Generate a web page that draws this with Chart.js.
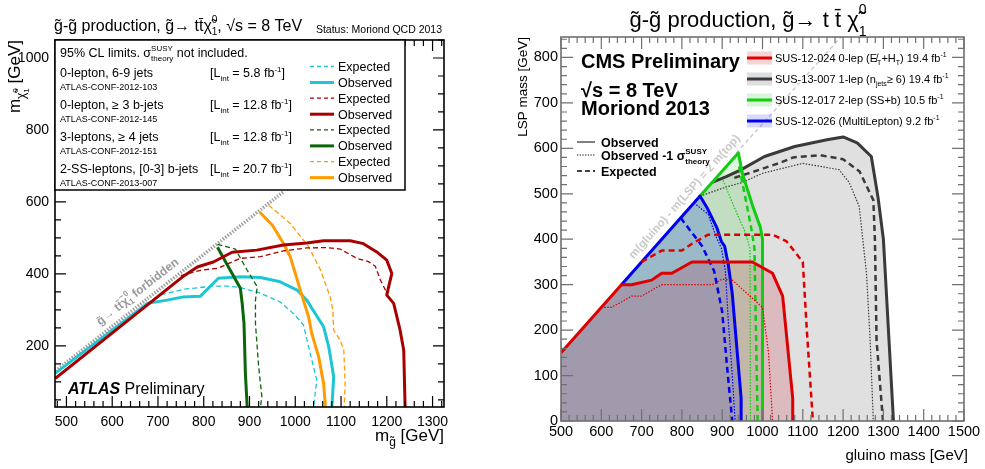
<!DOCTYPE html>
<html>
<head>
<meta charset="utf-8">
<script src="https://cdn.jsdelivr.net/npm/chart.js@4.4.0/dist/chart.umd.min.js"></script>
<style>
body { margin: 0; background: #fff; }
#wrap { position: relative; width: 985px; height: 469px; }
canvas { position: absolute; top: 0; }
</style>
</head>
<body>
<div id="wrap">
<canvas id="atlas" width="490" height="469" style="left:0"></canvas>
<canvas id="cms" width="490" height="469" style="left:495px"></canvas>
</div>
<script>
const FONT = '"Liberation Sans", Arial, Helvetica, sans-serif'

// ---------- ATLAS (left) ----------
const atlasXTicks = [500, 600, 700, 800, 900, 1000, 1100, 1200, 1300]
const atlasYTicks = [200, 400, 600, 800, 1000]
const atlasForbidden = [[476, 130], [975, 629]]
const atlasCyanObs = [[476,124],[677,318],[720,327],[755,336],[793,338],[832,388],[880,392],[924,390],[967,378],[1004,355],[1025,327],[1062,253],[1073,198],[1084,114],[1080,30]]
const atlasCyanExp = [[677,318],[705,341],[755,357],[821,366],[851,366],[880,362],[924,346],[967,322],[996,290],[1018,258],[1029,198],[1047,105],[1040,30]]
const atlasRedObs = [[476,110],[753,391],[786,419],[821,433],[862,460],[916,466],[974,480],[1025,486],[1062,492],[1120,492],[1149,484],[1178,461],[1200,438],[1211,401],[1204,364],[1200,341],[1215,318],[1229,244],[1237,188],[1240,30]]
const atlasRedExp = [[750,395],[793,410],[832,416],[865,435],[880,443],[924,448],[974,464],[1025,472],[1069,473],[1098,469],[1135,443],[1160,434],[1175,421],[1186,383],[1197,355],[1200,341]]
const atlasGreenObs = [[830,474],[858,410],[880,360],[884,318],[888,262],[891,123],[895,30]]
const atlasGreenExp = [[830,482],[869,469],[895,410],[917,364],[913,327],[913,262],[920,142],[927,59],[924,30]]
const atlasOrangeObs = [[922,572],[950,535],[974,485],[989,448],[1011,355],[1029,281],[1036,235],[1051,170],[1062,95],[1066,30]]
const atlasOrangeExp = [[942,591],[989,540],[1029,476],[1055,411],[1076,337],[1082,300],[1084,244],[1098,216],[1106,188],[1109,95],[1107,30]]

const atlasAnalyses = ['0-lepton, 6-9 jets', '0-lepton, \u2265 3 b-jets', '3-leptons, \u2265 4 jets', '2-SS-leptons, [0-3] b-jets']
const atlasNotes = ['ATLAS-CONF-2012-103', 'ATLAS-CONF-2012-145', 'ATLAS-CONF-2012-151', 'ATLAS-CONF-2013-007']
const atlasLumi = ['5.8', '12.8', '12.8', '20.7']
const atlasColors = ['#1ec6d3', '#a80000', '#0a660a', '#ff9c00']

// ---------- CMS (right) ----------
const cmsXTicks = [500, 600, 700, 800, 900, 1000, 1100, 1200, 1300, 1400, 1500]
const cmsYTicks = [0, 100, 200, 300, 400, 500, 600, 700, 800]
const cmsDiag = [[935, 590], [1200, 850]]
const cmsRedObs = [[500,150],[650,300],[675,300],[725,310],[750,325],[775,325],[825,350],[975,350],[1025,325],[1050,275],[1075,50],[1075,0]]
const cmsRedExp = [[700,350],[750,375],[800,375],[825,390],[865,410],[1025,410],[1060,395],[1100,350],[1110,200],[1125,0]]
const cmsRedDot = [[600,250],[625,250],[650,262],[675,275],[700,275],[750,300],[875,300],[900,312],[925,310],[950,290],[975,270],[1000,250],[1015,150],[1025,0]]
const cmsBlackObs = [[875,525],[910,538],[945,552],[1005,582],[1080,604],[1160,619],[1200,625],[1235,612],[1270,582],[1287,490],[1300,400],[1325,0]]
const cmsBlackExp = [[930,535],[965,545],[1040,567],[1076,580],[1142,585],[1200,576],[1241,549],[1275,486],[1279,398],[1283,178],[1299,0]]
const cmsBlackDot = [[845,495],[910,515],[950,525],[1000,545],[1100,567],[1190,553],[1215,525],[1240,472],[1258,325],[1267,180],[1275,0]]
const cmsGreenObs = [[845,495],[940,590],[950,545],[975,475],[995,425],[1000,400],[1000,0]]
const cmsGreenExp = [[942,560],[960,480],[973,420],[980,380],[988,0]]
const cmsGreenDot = [[902,530],[930,470],[955,420],[969,380],[970,0]]
const cmsBlueObs = [[650,300],[845,495],[862,470],[887,425],[898,395],[906,385],[915,345],[925,280],[947,50],[947,0]]
const cmsBlueExp = [[797,447],[820,420],[850,385],[880,330],[900,240],[912,120],[925,0]]
const cmsBlueDot = [[830,480],[865,455],[885,405],[898,380],[908,330],[915,222],[925,100],[932,0]]
const cmsDiagStart = [[500, 150]]

const cmsColors = ['#dd0000', '#3a3a3a', '#11cc11', '#0000ee']
const cmsBands = ['rgba(220,60,60,0.22)', 'rgba(0,0,0,0.13)', 'rgba(40,200,40,0.18)', 'rgba(60,60,230,0.2)']
const cmsFills = ['rgba(190,0,30,0.17)', 'rgba(0,0,0,0.12)', 'rgba(0,200,0,0.13)', 'rgba(30,80,220,0.25)']

const pts = a => a.map(([x, y]) => ({x, y}))

function curve(data, color, width, dash) {
    return {
        data: pts(data), showLine: true, borderColor: color, borderWidth: width,
        borderDash: dash || [], pointRadius: 0, fill: false, borderJoinStyle: 'round',
    }
}

function area(data, color) {
    return {
        data: pts(data), showLine: true, borderWidth: 0, borderColor: 'rgba(0,0,0,0)',
        backgroundColor: color, pointRadius: 0, fill: 'origin',
    }
}

// text with sub/superscripts; a part with stack:true sits over the previous one
function rich(ctx, x, y, parts, align, color) {
    const items = parts.map(p => {
        ctx.font = (p.f || '') + ' ' + p.s + 'px ' + FONT
        return {p: p, w: ctx.measureText(p.t).width}
    })
    let cx = 0, prevStart = 0, prevW = 0
    const xs = []
    items.forEach(it => {
        if (it.p.stack) {
            xs.push(prevStart)
            prevW = Math.max(prevW, it.w)
            cx = prevStart + prevW
        } else {
            xs.push(cx)
            prevStart = cx
            prevW = it.w
            cx += it.w
        }
    })
    const x0 = align === 'right' ? x - cx : align === 'center' ? x - cx / 2 : x
    ctx.textAlign = 'left'
    ctx.textBaseline = 'alphabetic'
    items.forEach((it, i) => {
        ctx.font = (it.p.f || '') + ' ' + it.p.s + 'px ' + FONT
        ctx.fillStyle = it.p.c || color || '#000'
        ctx.fillText(it.p.t, x0 + xs[i], y + (it.p.dy || 0))
    })
}

const P = (t, s, dy, f, stack) => ({t: t, s: s, dy: dy || 0, f: f || '', stack: !!stack})

function inwardTicks(chart, o) {
    const {ctx, chartArea: a, scales: {x, y}} = chart
    ctx.save()
    ctx.strokeStyle = o.color
    ctx.lineWidth = o.lw
    ctx.beginPath()
    for (let v = Math.ceil(x.min / o.xMinor) * o.xMinor; v <= x.max; v += o.xMinor) {
        const p = x.getPixelForValue(v)
        const len = v % o.xMajor === 0 ? o.major : o.minor
        ctx.moveTo(p, a.bottom); ctx.lineTo(p, a.bottom - len)
        ctx.moveTo(p, a.top); ctx.lineTo(p, a.top + len)
    }
    for (let v = Math.ceil(y.min / o.yMinor) * o.yMinor; v <= y.max; v += o.yMinor) {
        const p = y.getPixelForValue(v)
        const len = v % o.yMajor === 0 ? o.major : o.minor
        ctx.moveTo(a.left, p); ctx.lineTo(a.left + len, p)
        ctx.moveTo(a.right, p); ctx.lineTo(a.right - len, p)
    }
    ctx.stroke()
    ctx.strokeStyle = o.frame
    ctx.lineWidth = o.frameLw
    ctx.strokeRect(a.left, a.top, a.right - a.left, a.bottom - a.top)
    ctx.restore()
}

function scaleOpts(min, max, tickValues, size, pad, fitKey, fitVal) {
    return {
        type: 'linear', min: min, max: max,
        grid: {display: false, drawTicks: false},
        border: {display: false},
        afterBuildTicks: axis => { axis.ticks = tickValues.map(v => ({value: v})) },
        afterFit: axis => { axis[fitKey] = fitVal },
        ticks: {
            autoSkip: false, maxRotation: 0, padding: pad, color: '#000',
            font: {family: FONT, size: size}, callback: v => String(v),
        },
    }
}

const atlasDecor = {
    id: 'atlasDecor',
    afterDatasetsDraw(chart) {
        const {ctx, chartArea: a, scales: {x, y}} = chart
        inwardTicks(chart, {xMinor: 20, xMajor: 100, yMinor: 50, yMajor: 200, major: 11, minor: 6,
            color: '#000', lw: 1.2, frame: '#000', frameLw: 1.6})

        // forbidden label along the kinematic line
        const ang = Math.atan2(y.getPixelForValue(600) - y.getPixelForValue(500), x.getPixelForValue(900) - x.getPixelForValue(800))
        ctx.save()
        ctx.translate(x.getPixelForValue(574), y.getPixelForValue(256))
        ctx.rotate(ang)
        rich(ctx, 0, 0, [P('g\u0303\u2192 tt\u0304\u03C7\u0303', 12, 0, 'bold'), P('1', 8, 3, 'bold'), P('0', 8, -7, 'bold', true),
            P(' forbidden', 12, 0, 'bold')], 'left', '#9a9a9a')
        ctx.restore()

        // legend box
        ctx.save()
        ctx.fillStyle = '#fff'
        ctx.fillRect(a.left, a.top, 350, 150)
        ctx.strokeStyle = '#000'
        ctx.lineWidth = 1.5
        ctx.strokeRect(a.left, a.top, 350, 150)
        rich(ctx, 60, 57, [P('95% CL limits. \u03C3', 12.5), P('SUSY', 8, -6), P('theory', 8, 4, '', true), P(' not included.', 12.5)])
        atlasAnalyses.forEach((name, i) => {
            const yb = 77 + i * 32
            rich(ctx, 60, yb, [P(name, 12.5)])
            rich(ctx, 60, yb + 12.5, [P(atlasNotes[i], 9)])
            rich(ctx, 210, yb, [P('[L', 12.5), P('int', 8, 4), P(' = ' + atlasLumi[i] + ' fb', 12.5), P('-1', 8, -5), P(']', 12.5)])
            const ye = 66.5 + i * 31.7
            ctx.strokeStyle = atlasColors[i]
            ctx.lineWidth = 1.3
            ctx.setLineDash([4, 3])
            ctx.beginPath(); ctx.moveTo(310, ye); ctx.lineTo(334, ye); ctx.stroke()
            ctx.setLineDash([])
            ctx.lineWidth = 3
            ctx.beginPath(); ctx.moveTo(310, ye + 16); ctx.lineTo(334, ye + 16); ctx.stroke()
            rich(ctx, 338, ye + 4.5, [P('Expected', 12.5)])
            rich(ctx, 338, ye + 20.5, [P('Observed', 12.5)])
        })
        ctx.restore()

        // titles
        rich(ctx, 54, 31, [P('g\u0303-g\u0303 production, g\u0303\u2192 tt\u0304\u03C7\u0303', 16), P('1', 10, 4), P('0', 10, -8, '', true), P(', \u221As = 8 TeV', 16)])
        rich(ctx, 442, 33, [P('Status: Moriond QCD 2013', 10.5)], 'right')
        rich(ctx, 68, 394, [P('ATLAS', 16, 0, 'italic bold'), P(' Preliminary', 16)])
        rich(ctx, 444, 441, [P('m', 17), P('g\u0303', 12, 5), P(' [GeV]', 17)], 'right')
        ctx.save()
        ctx.translate(20, 40)
        ctx.rotate(-Math.PI / 2)
        rich(ctx, 0, 0, [P('m', 17), P('\u03C7\u0303', 12, 5), P('1', 8, 9), P('0', 8, -2, '', true), P(' [GeV]', 17)], 'right')
        ctx.restore()
    }
}

new Chart(document.getElementById('atlas'), {
    type: 'scatter',
    data: {
        datasets: [
            curve(atlasRedObs, atlasColors[1], 3),
            curve(atlasRedExp, atlasColors[1], 1.3, [5, 3]),
            curve(atlasOrangeObs, atlasColors[3], 3),
            curve(atlasOrangeExp, atlasColors[3], 1.3, [5, 3]),
            curve(atlasGreenObs, atlasColors[2], 3),
            curve(atlasGreenExp, atlasColors[2], 1.3, [5, 3]),
            curve(atlasCyanObs, atlasColors[0], 3),
            curve(atlasCyanExp, atlasColors[0], 1.3, [5, 3]),
            curve(atlasForbidden, '#a0a0a0', 3.5, [1.5, 1.5]),
        ],
    },
    options: {
        responsive: false, animation: false, devicePixelRatio: 1, events: [],
        layout: {padding: {left: 0, right: 46, top: 40, bottom: 0}},
        plugins: {legend: {display: false}, tooltip: {enabled: false}},
        scales: {
            x: scaleOpts(475, 1325, atlasXTicks, 14, 6.5, 'height', 62),
            y: scaleOpts(30, 1050, atlasYTicks, 14, 6, 'width', 55),
        },
    },
    plugins: [atlasDecor],
})

const cmsDecor = {
    id: 'cmsDecor',
    afterDatasetsDraw(chart) {
        const {ctx, scales: {x, y}} = chart
        inwardTicks(chart, {xMinor: 20, xMajor: 100, yMinor: 20, yMajor: 100, major: 12, minor: 6,
            color: '#707070', lw: 1.2, frame: '#707070', frameLw: 1.6})

        const ang = Math.atan2(y.getPixelForValue(600) - y.getPixelForValue(500), x.getPixelForValue(900) - x.getPixelForValue(800))
        ctx.save()
        ctx.translate(x.getPixelForValue(680), y.getPixelForValue(356))
        ctx.rotate(ang)
        rich(ctx, 0, 0, [P('m(gluino) - m(LSP) = 2 m(top)', 11.5, 0, 'bold')], 'left', '#cacaca')
        ctx.restore()

        // legend
        const labels = [
            [P('SUS-12-024 0-lep (', 11), P('E\u0338', 11), P('T', 7, 3), P('+H', 11), P('T', 7, 3), P(') 19.4 fb', 11), P('-1', 7, -5)],
            [P('SUS-13-007 1-lep (n', 11), P('jets', 7, 3), P('\u2265 6) 19.4 fb', 11), P('-1', 7, -5)],
            [P('SUS-12-017 2-lep (SS+b) 10.5 fb', 11), P('-1', 7, -5)],
            [P('SUS-12-026 (MultiLepton) 9.2 fb', 11), P('-1', 7, -5)],
        ]
        labels.forEach((parts, i) => {
            const yc = 58 + i * 21
            ctx.fillStyle = cmsBands[i]
            ctx.fillRect(252, yc - 6.5, 25, 13)
            ctx.strokeStyle = cmsColors[i]
            ctx.lineWidth = 3
            ctx.setLineDash([])
            ctx.beginPath(); ctx.moveTo(252, yc); ctx.lineTo(277, yc); ctx.stroke()
            rich(ctx, 280, yc + 4, parts)
        })

        rich(ctx, 86, 68, [P('CMS Preliminary', 20, 0, 'bold')])
        rich(ctx, 86, 97, [P('\u221As = 8 TeV', 20, 0, 'bold')])
        rich(ctx, 86, 115, [P('Moriond 2013', 20, 0, 'bold')])

        const styles = [[], [1.2, 1.5], [5, 3]]
        const styleText = [
            [P('Observed', 12.5, 0, 'bold')],
            [P('Observed -1 \u03C3', 12.5, 0, 'bold'), P('SUSY', 8, -6, 'bold'), P('theory', 8, 4, 'bold', true)],
            [P('Expected', 12.5, 0, 'bold')],
        ]
        const styleY = [142, 155, 171]
        styles.forEach((d, i) => {
            ctx.strokeStyle = '#000'
            ctx.lineWidth = i === 2 ? 1.5 : 1
            ctx.setLineDash(d)
            ctx.beginPath(); ctx.moveTo(82, styleY[i]); ctx.lineTo(100, styleY[i]); ctx.stroke()
            ctx.setLineDash([])
            rich(ctx, 106, styleY[i] + 4.5, styleText[i])
        })

        rich(ctx, 253, 27, [P('g\u0303-g\u0303 production, g\u0303\u2192 t t\u0304 \u03C7\u0303', 22), P('1', 14, 9), P('0', 14, -13, '', true)], 'center')
        rich(ctx, 473, 460, [P('gluino mass [GeV]', 15)], 'right')
        ctx.save()
        ctx.translate(32, 37)
        ctx.rotate(-Math.PI / 2)
        rich(ctx, 0, 0, [P('LSP mass [GeV]', 13.5)], 'right')
        ctx.restore()
    }
}

new Chart(document.getElementById('cms'), {
    type: 'scatter',
    data: {
        datasets: [
            curve(cmsRedObs, cmsColors[0], 3),
            curve(cmsRedExp, cmsColors[0], 2.5, [6, 4]),
            curve(cmsRedDot, cmsColors[0], 1.2, [1.5, 1.5]),
            curve(cmsBlueObs, cmsColors[3], 3),
            curve(cmsBlueExp, cmsColors[3], 2.5, [6, 4]),
            curve(cmsBlueDot, cmsColors[3], 1.2, [1.5, 1.5]),
            curve(cmsGreenObs, cmsColors[2], 3),
            curve(cmsGreenExp, cmsColors[2], 2.5, [6, 4]),
            curve(cmsGreenDot, cmsColors[2], 1.2, [1.5, 1.5]),
            curve(cmsBlackObs, cmsColors[1], 3),
            curve(cmsBlackExp, cmsColors[1], 2.5, [6, 4]),
            curve(cmsBlackDot, cmsColors[1], 1.2, [1.5, 1.5]),
            curve(cmsDiag, '#cccccc', 1.5, [4, 3]),
            area(cmsRedObs, cmsFills[0]),
            area(cmsDiagStart.concat(cmsBlueObs), cmsFills[3]),
            area(cmsDiagStart.concat(cmsGreenObs), cmsFills[2]),
            area(cmsDiagStart.concat(cmsBlackObs), cmsFills[1]),
        ],
    },
    options: {
        responsive: false, animation: false, devicePixelRatio: 1, events: [],
        layout: {padding: {left: 0, right: 21, top: 37, bottom: 0}},
        plugins: {legend: {display: false}, tooltip: {enabled: false}, filler: {drawTime: 'beforeDatasetsDraw'}},
        scales: {
            x: scaleOpts(500, 1500, cmsXTicks, 14.5, 2, 'height', 48),
            y: scaleOpts(0, 845, cmsYTicks, 14.5, 3, 'width', 66),
        },
    },
    plugins: [cmsDecor],
})
</script>
</body>
</html>
